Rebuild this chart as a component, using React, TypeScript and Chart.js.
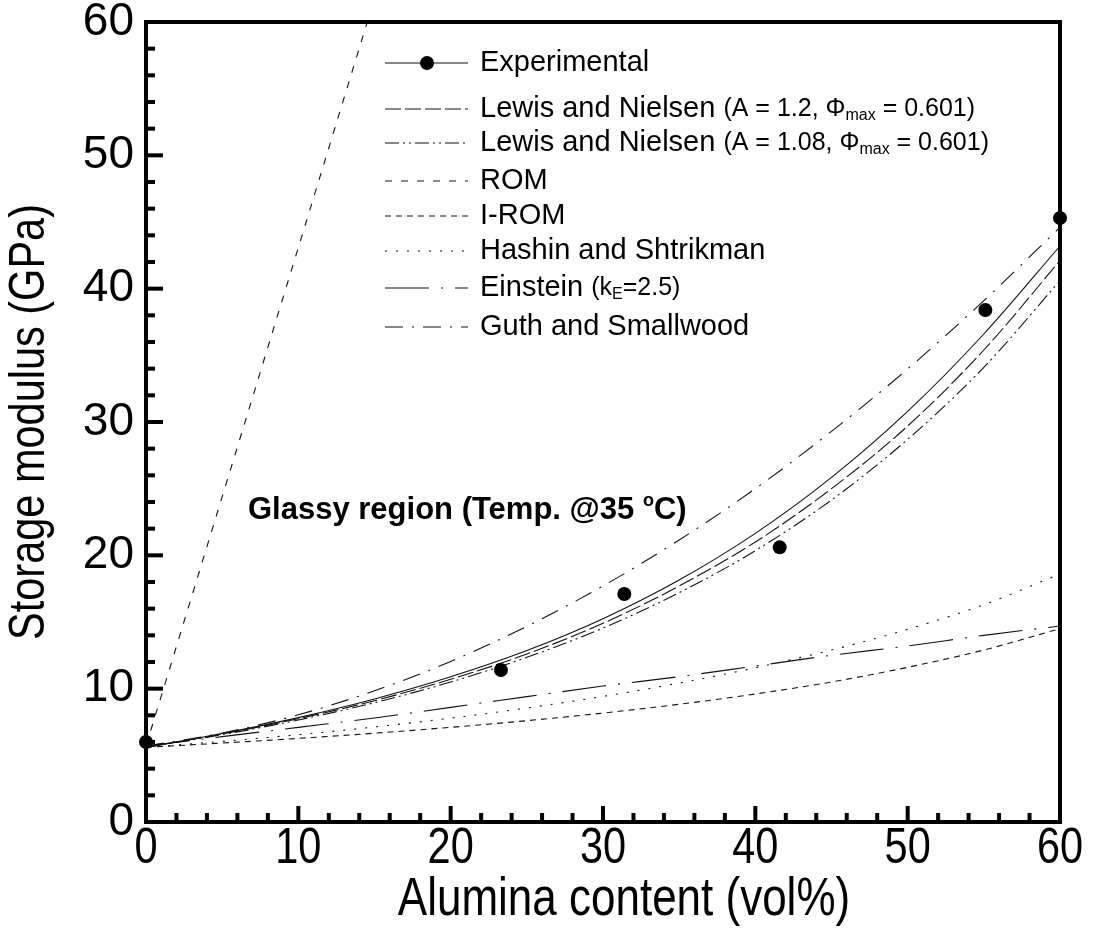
import React, { useEffect, useRef } from "react";
import { Chart, registerables } from "chart.js";

Chart.register(...registerables);

const CANVAS_W = 1094;
const CANVAS_H = 936;

// Composition grid (vol%) shared by the model curves
const alumina = [0, 5, 10, 15, 20, 25, 30, 35, 40, 45, 50, 55, 60];

// Measured storage modulus (GPa)
const experimentalVol = [0, 23.3, 31.4, 41.6, 55.1, 60];
const experimentalModulus = [6.0, 11.4, 17.1, 20.6, 38.4, 45.3];

// Model predictions (GPa) on the alumina grid
const trendModulus = [5.6, 6.64, 7.83, 9.23, 10.89, 12.86, 15.25, 18.15, 21.65, 25.85, 30.8, 36.6, 43.2];
const lewisNielsen12 = [5.6, 6.6, 7.75, 9.1, 10.7, 12.6, 14.9, 17.7, 21.0, 25.0, 29.7, 35.4, 42.1];
const lewisNielsen108 = [5.6, 6.55, 7.65, 8.95, 10.5, 12.35, 14.55, 17.2, 20.35, 24.15, 28.7, 34.1, 40.6];
const inverseRom = [5.6, 5.92, 6.27, 6.66, 7.1, 7.6, 8.17, 8.83, 9.6, 10.5, 11.6, 12.9, 14.5];
const hashinShtrikman = [5.6, 6.05, 6.55, 7.13, 7.79, 8.55, 9.42, 10.42, 11.57, 12.9, 14.45, 16.3, 18.6];
const einstein = [5.7, 6.4, 7.1, 7.8, 8.6, 9.4, 10.2, 10.9, 11.7, 12.5, 13.2, 14.0, 14.7];
const guthSmallwood = [5.7, 6.67, 8.04, 9.84, 12.04, 14.67, 17.7, 21.15, 25.0, 29.3, 33.98, 39.1, 44.6];

// Rule of mixtures is a straight line, given by its end points
const romVol = [0, 60];
const romModulus = [5.7, 230];

// Dash patterns
const DASH_LN12 = [16, 4];
const DASH_LN108 = [14, 4, 2, 4, 2, 4];
const DASH_ROM = [7, 9];
const DASH_IROM = [6, 5];
const DASH_HS = [2, 9];
const DASH_EINSTEIN = [44, 12, 2, 12];
const DASH_GUTH = [18, 9, 2, 9];

const ARIAL = "'Liberation Sans', Arial, sans-serif";
const NARROW_SCALE = 0.83;

const pts = (xs: number[], ys: number[]) => xs.map((x, i) => ({ x, y: ys[i] }));

const curve = (label: string, ys: number[], dash: number[], xs: number[] = alumina) => ({
  label,
  data: pts(xs, ys),
  borderColor: "#111",
  borderWidth: 1.1,
  borderDash: dash,
  pointRadius: 0,
  fill: false,
  cubicInterpolationMode: "monotone" as const,
  order: 1,
});

// Draws text squeezed horizontally around (x, y)
const narrowText = (ctx: CanvasRenderingContext2D, text: string, x: number, y: number, size: number, rotate = 0) => {
  ctx.save();
  ctx.translate(x, y);
  if (rotate) ctx.rotate(rotate);
  ctx.scale(NARROW_SCALE, 1);
  ctx.font = `${size}px ${ARIAL}`;
  ctx.textAlign = "center";
  ctx.textBaseline = "middle";
  ctx.fillText(text, 0, 0);
  ctx.restore();
};

// Frame with inward ticks, drawn before the data
const framePlugin = {
  id: "frame",
  beforeDatasetsDraw(chart: any) {
    const { ctx, chartArea: a, scales } = chart;
    ctx.save();
    ctx.strokeStyle = "#000";
    ctx.lineWidth = 4;
    ctx.setLineDash([]);
    ctx.strokeRect(a.left, a.top, a.right - a.left, a.bottom - a.top);
    ctx.lineCap = "butt";
    for (let v = 0; v <= 60; v += 2) {
      const major = v % 10 === 0;
      const py = scales.y.getPixelForValue(v);
      ctx.beginPath();
      ctx.moveTo(a.left, py);
      ctx.lineTo(a.left + (major ? 17 : 9), py);
      ctx.stroke();
      const px = scales.x.getPixelForValue(v);
      ctx.beginPath();
      ctx.moveTo(px, a.bottom);
      ctx.lineTo(px, a.bottom - (major ? 16 : 9));
      ctx.stroke();
    }
    // x tick labels, placed by the x scale
    ctx.fillStyle = "#000";
    for (const t of scales.x.ticks) {
      narrowText(ctx, String(t.value), scales.x.getPixelForValue(t.value), a.bottom + 27, 50);
    }
    ctx.restore();
  },
};

type Run = { t: string; size: number; dy?: number; bold?: boolean };

const drawRuns = (ctx: CanvasRenderingContext2D, x: number, y: number, runs: Run[]) => {
  let cx = x;
  for (const r of runs) {
    ctx.font = `${r.bold ? "bold " : ""}${r.size}px ${ARIAL}`;
    ctx.fillText(r.t, cx, y + (r.dy || 0));
    cx += ctx.measureText(r.t).width;
  }
};

const legendItems: { dash: number[] | null; runs: Run[]; y: number }[] = [
  { dash: null, y: 63, runs: [{ t: "Experimental", size: 29 }] },
  {
    dash: DASH_LN12,
    y: 109,
    runs: [
      { t: "Lewis and Nielsen ", size: 29 },
      { t: "(A = 1.2, \u03A6", size: 25 },
      { t: "max", size: 16, dy: 7 },
      { t: " = 0.601)", size: 25 },
    ],
  },
  {
    dash: DASH_LN108,
    y: 143,
    runs: [
      { t: "Lewis and Nielsen ", size: 29 },
      { t: "(A = 1.08, \u03A6", size: 25 },
      { t: "max", size: 16, dy: 7 },
      { t: " = 0.601)", size: 25 },
    ],
  },
  { dash: DASH_ROM, y: 181, runs: [{ t: "ROM", size: 29 }] },
  { dash: DASH_IROM, y: 216, runs: [{ t: "I-ROM", size: 29 }] },
  { dash: DASH_HS, y: 251, runs: [{ t: "Hashin and Shtrikman", size: 29 }] },
  {
    dash: DASH_EINSTEIN,
    y: 288,
    runs: [
      { t: "Einstein ", size: 29 },
      { t: "(k", size: 25 },
      { t: "E", size: 16, dy: 7 },
      { t: "=2.5)", size: 25 },
    ],
  },
  { dash: DASH_GUTH, y: 327, runs: [{ t: "Guth and Smallwood", size: 29 }] },
];

// Legend, annotation and axis titles
const textPlugin = {
  id: "texts",
  afterDraw(chart: any) {
    const { ctx } = chart;
    ctx.save();
    ctx.fillStyle = "#000";
    ctx.strokeStyle = "#111";
    ctx.textBaseline = "middle";
    ctx.textAlign = "left";
    for (const item of legendItems) {
      const y = item.y;
      ctx.beginPath();
      ctx.lineWidth = 1.1;
      ctx.setLineDash(item.dash || []);
      ctx.moveTo(385, y);
      ctx.lineTo(468, y);
      ctx.stroke();
      if (!item.dash) {
        ctx.beginPath();
        ctx.arc(427, y, 7, 0, Math.PI * 2);
        ctx.fill();
      }
      ctx.setLineDash([]);
      drawRuns(ctx, 480, y, item.runs);
    }

    drawRuns(ctx, 248, 510, [
      { t: "Glassy region (Temp. @35 ", size: 31, bold: true },
      { t: "o", size: 18, dy: -9, bold: true },
      { t: "C)", size: 31, bold: true },
    ]);

    narrowText(ctx, "Alumina content (vol%)", 624, 900, 53);
    narrowText(ctx, "Storage modulus (GPa)", 30, 422, 50, -Math.PI / 2);
    ctx.restore();
  },
};

export default function App() {
  const ref = useRef<HTMLCanvasElement>(null);

  useEffect(() => {
    document.body.style.margin = "0";
    const canvas = ref.current;
    if (!canvas) return;
    const chart = new Chart(canvas, {
      type: "line",
      data: {
        datasets: [
          {
            label: "Experimental",
            data: pts(experimentalVol, experimentalModulus),
            showLine: false,
            pointRadius: 7,
            pointBackgroundColor: "#000",
            pointBorderColor: "#000",
            pointBorderWidth: 0,
            clip: false,
            order: 0,
          } as any,
          curve("Experimental trend", trendModulus, []),
          curve("Lewis and Nielsen (A = 1.2)", lewisNielsen12, DASH_LN12),
          curve("Lewis and Nielsen (A = 1.08)", lewisNielsen108, DASH_LN108),
          curve("ROM", romModulus, DASH_ROM, romVol),
          curve("I-ROM", inverseRom, DASH_IROM),
          curve("Hashin and Shtrikman", hashinShtrikman, DASH_HS),
          curve("Einstein", einstein, DASH_EINSTEIN),
          curve("Guth and Smallwood", guthSmallwood, DASH_GUTH),
        ],
      },
      options: {
        responsive: false,
        animation: false,
        devicePixelRatio: 1,
        layout: { padding: { top: 22, right: 34, left: 0, bottom: 0 } },
        plugins: { legend: { display: false }, tooltip: { enabled: false } },
        scales: {
          x: {
            type: "linear",
            min: 0,
            max: 60,
            grid: { display: false, drawTicks: false },
            border: { display: false },
            ticks: { stepSize: 10, display: false },
            afterFit: (s: any) => {
              s.height = 114;
              s.paddingLeft = 0;
              s.paddingRight = 0;
            },
          },
          y: {
            type: "linear",
            min: 0,
            max: 60,
            grid: { display: false, drawTicks: false },
            border: { display: false },
            ticks: { stepSize: 10, padding: 12, color: "#000", font: { family: ARIAL, size: 46 } },
            afterFit: (s: any) => {
              s.width = 146;
              s.paddingTop = 0;
              s.paddingBottom = 0;
            },
          },
        },
      },
      plugins: [framePlugin, textPlugin],
    });
    return () => chart.destroy();
  }, []);

  return <canvas ref={ref} width={CANVAS_W} height={CANVAS_H} style={{ display: "block" }} />;
}
